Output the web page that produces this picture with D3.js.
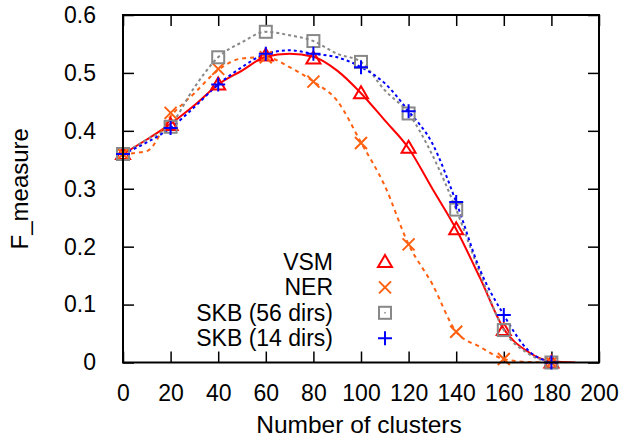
<!DOCTYPE html>
<html>
<head>
<meta charset="utf-8">
<script src="https://cdn.jsdelivr.net/npm/d3@7"></script>
<style>
  body { margin: 0; background: #fff; }
  text { font-family: "Liberation Sans", Arial, sans-serif; }
</style>
</head>
<body>
<svg id="chart" width="624" height="441"></svg>
<script>
// tick values
const xTicks = [0, 20, 40, 60, 80, 100, 120, 140, 160, 180, 200];
const yTicks = [0, 0.1, 0.2, 0.3, 0.4, 0.5, 0.6];

// measured points (every 20 clusters)
const pointX = [0, 20, 40, 60, 80, 100, 120, 140, 160, 180];
const vsmPoints = [0.36, 0.41, 0.48, 0.53, 0.525, 0.465, 0.371, 0.23, 0.056, 0.0];
const nerPoints = [0.36, 0.431, 0.507, 0.527, 0.485, 0.379, 0.204, 0.053, 0.006, 0.0];
const skb56Points = [0.36, 0.407, 0.527, 0.571, 0.555, 0.519, 0.43, 0.264, 0.056, 0.0];
const skb14Points = [0.36, 0.405, 0.48, 0.533, 0.533, 0.51, 0.434, 0.277, 0.082, 0.0];

// smoothed curves (every 10 clusters)
const lineX = [0, 10, 20, 30, 40, 50, 60, 70, 80, 90, 100, 110, 120, 130, 140, 150, 160, 170, 180, 190];
const vsmLine = [0.36, 0.385, 0.412, 0.444, 0.48, 0.504, 0.528, 0.533, 0.528, 0.504, 0.465, 0.418, 0.37, 0.30, 0.23, 0.146, 0.058, 0.019, 0.002, 0.0];
const nerLine = [0.36, 0.365, 0.425, 0.465, 0.505, 0.525, 0.527, 0.51, 0.485, 0.452, 0.38, 0.305, 0.204, 0.135, 0.053, 0.027, 0.006, 0.001, 0.0];
const skb56Line = [0.36, 0.385, 0.41, 0.475, 0.527, 0.553, 0.571, 0.565, 0.555, 0.533, 0.519, 0.47, 0.43, 0.358, 0.264, 0.154, 0.056, 0.016, 0.0];
const skb14Line = [0.36, 0.38, 0.405, 0.441, 0.48, 0.51, 0.533, 0.539, 0.533, 0.527, 0.51, 0.482, 0.434, 0.378, 0.277, 0.16, 0.082, 0.022, 0.0];

const seriesNames = ["VSM", "NER", "SKB (56 dirs)", "SKB (14 dirs)"];

const series = [
    { name: seriesNames[0], pts: vsmPoints, line: vsmLine, color: "#ff0000", dash: null, marker: "triangle" },
    { name: seriesNames[1], pts: nerPoints, line: nerLine, color: "#ff6010", dash: "4,4", marker: "cross" },
    { name: seriesNames[2], pts: skb56Points, line: skb56Line, color: "#888888", dash: "3,3", marker: "square" },
    { name: seriesNames[3], pts: skb14Points, line: skb14Line, color: "#0000ff", dash: "3,3", marker: "plus" }
];

const svg = d3.select("#chart");
const margin = { left: 123, right: 25, top: 15, bottom: 78.5 };
const width = 624 - margin.left - margin.right;
const height = 441 - margin.top - margin.bottom;

const x = d3.scaleLinear().domain([0, 200]).range([0, width]);
const y = d3.scaleLinear().domain([0, 0.6]).range([height, 0]);

const g = svg.append("g").attr("transform", `translate(${margin.left},${margin.top})`);

// clip so curves stay in the box
svg.append("defs").append("clipPath").attr("id", "plotclip")
    .append("rect").attr("width", width).attr("height", height);

const tickLen = 11;
const fmt = d => d === 0 ? "0" : d3.format(".1f")(d);

// axes: bottom/left with labels, top/right mirrored ticks
const xAxis = g.append("g").attr("transform", `translate(0,${height})`)
    .call(d3.axisBottom(x).tickValues(xTicks).tickSizeInner(-tickLen).tickSizeOuter(0).tickPadding(22));
const yAxis = g.append("g")
    .call(d3.axisLeft(y).tickValues(yTicks).tickFormat(fmt).tickSizeInner(-tickLen).tickSizeOuter(0).tickPadding(27));
g.append("g")
    .call(d3.axisTop(x).tickValues(xTicks).tickSizeInner(-tickLen).tickSizeOuter(0).tickFormat(""));
g.append("g").attr("transform", `translate(${width},0)`)
    .call(d3.axisRight(y).tickValues(yTicks).tickSizeInner(-tickLen).tickSizeOuter(0).tickFormat(""));

g.selectAll(".domain").remove();
g.selectAll(".tick line").attr("stroke", "#000").attr("stroke-width", 1.5);
g.selectAll(".tick text").attr("font-size", 23).attr("fill", "#000")
    .attr("font-family", "'Liberation Sans', Arial, sans-serif");
xAxis.selectAll(".tick text").attr("dy", "0.71em");

// curves
const lineGen = d3.line().curve(d3.curveMonotoneX);
const plot = g.append("g").attr("clip-path", "url(#plotclip)");

series.forEach(s => {
    const pts = s.line.map((v, i) => [x(lineX[i]), y(v)]);
    plot.append("path")
        .attr("d", lineGen(pts))
        .attr("fill", "none")
        .attr("stroke", s.color)
        .attr("stroke-width", 2)
        .attr("stroke-dasharray", s.dash);
});

function drawMarker(sel, type, color) {
    const r = 6;
    if (type === "triangle") {
        sel.append("path").attr("d", `M0,${-r - 1} L${r + 1},${r - 1} L${-r - 1},${r - 1} Z`)
            .attr("fill", "none").attr("stroke", color).attr("stroke-width", 2);
    } else if (type === "cross") {
        sel.append("path").attr("d", `M${-r},${-r} L${r},${r} M${-r},${r} L${r},${-r}`)
            .attr("stroke", color).attr("stroke-width", 2);
    } else if (type === "square") {
        sel.append("rect").attr("x", -r).attr("y", -r).attr("width", 2 * r).attr("height", 2 * r)
            .attr("fill", "none").attr("stroke", color).attr("stroke-width", 2);
        sel.append("rect").attr("x", -0.75).attr("y", -0.75).attr("width", 1.5).attr("height", 1.5)
            .attr("fill", color);
    } else {
        sel.append("path").attr("d", `M${-r - 1},0 L${r + 1},0 M0,${-r - 1} L0,${r + 1}`)
            .attr("stroke", color).attr("stroke-width", 2);
    }
}

series.forEach(s => {
    g.append("g").selectAll("g")
        .data(s.pts.map((v, i) => ({ x: pointX[i], y: v })))
        .enter()
        .append("g")
        .attr("transform", d => `translate(${x(d.x)},${y(d.y)})`)
        .each(function () { drawMarker(d3.select(this), s.marker, s.color); });
});

// frame
g.append("rect").attr("width", width).attr("height", height)
    .attr("fill", "none").attr("stroke", "#000").attr("stroke-width", 2);

// legend
const legend = g.append("g").attr("transform", `translate(${x(0)},${y(0)})`);
series.forEach((s, i) => {
    const ly = 262 - margin.top - height + i * 25.4;
    legend.append("text")
        .attr("x", 333 - margin.left).attr("y", ly).attr("dy", "0.35em")
        .attr("text-anchor", "end").attr("font-size", 23).text(s.name);
    const m = legend.append("g").attr("transform", `translate(${385 - margin.left},${ly})`);
    drawMarker(m, s.marker, s.color);
});

// axis titles
svg.append("text")
    .attr("x", margin.left + width / 2 - 2).attr("y", 433)
    .attr("text-anchor", "middle").attr("font-size", 24.5)
    .text("Number of clusters");
svg.append("text")
    .attr("transform", `translate(28,${margin.top + height / 2}) rotate(-90)`)
    .attr("text-anchor", "middle").attr("font-size", 24)
    .text("F_measure");
</script>
</body>
</html>
